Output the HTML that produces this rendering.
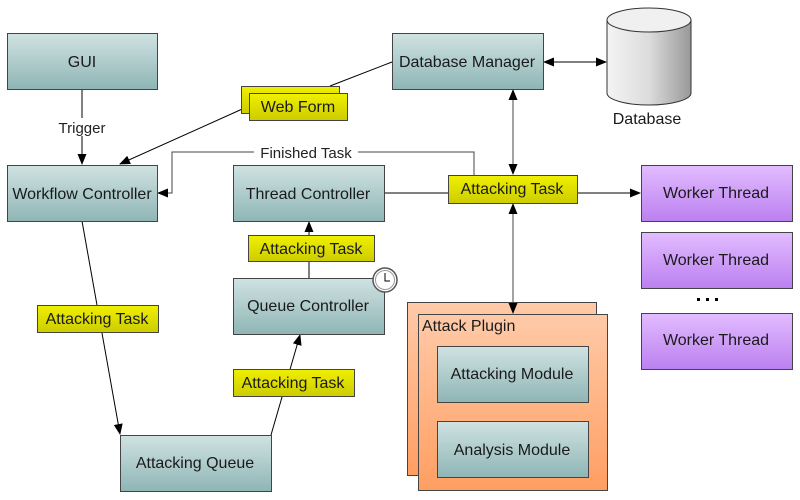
<!DOCTYPE html>
<html><head><meta charset="utf-8"><style>
html,body{margin:0;padding:0;background:#fff;}
svg{display:block;font-family:"Liberation Sans",Arial,sans-serif;}
</style></head><body>
<svg width="800" height="500" viewBox="0 0 800 500" xmlns="http://www.w3.org/2000/svg">
<defs>
<linearGradient id="teal" x1="0" y1="0" x2="0" y2="1"><stop offset="0" stop-color="#d0e2e2"/><stop offset="1" stop-color="#8fb5b5"/></linearGradient>
<linearGradient id="yel" x1="0" y1="0" x2="0" y2="1"><stop offset="0" stop-color="#f0f000"/><stop offset="1" stop-color="#cccc00"/></linearGradient>
<linearGradient id="pur" x1="0" y1="0" x2="0" y2="1"><stop offset="0" stop-color="#e2bcff"/><stop offset="1" stop-color="#bb80f0"/></linearGradient>
<linearGradient id="org" x1="0" y1="0" x2="0" y2="1"><stop offset="0" stop-color="#ffcaa8"/><stop offset="1" stop-color="#ff9e62"/></linearGradient>
<linearGradient id="cyl" x1="0" y1="0" x2="1" y2="0"><stop offset="0" stop-color="#f4f4f4"/><stop offset="0.5" stop-color="#dcdcdc"/><stop offset="1" stop-color="#999"/></linearGradient>
<marker id="a" markerWidth="11" markerHeight="11" refX="10" refY="5.5" orient="auto-start-reverse" markerUnits="userSpaceOnUse"><path d="M0,1 L11,5.5 L0,10 Z" fill="#000"/></marker>
</defs>
<g stroke="#000" stroke-width="1" fill="none">
<line x1="82" y1="89" x2="82" y2="164" marker-end="url(#a)"/>
<line x1="392" y1="62" x2="330" y2="86"/>
<line x1="249" y1="106" x2="120" y2="164" marker-end="url(#a)"/>
<polyline points="474,175 474,152 172,152 172,193 158,193" stroke="#444" marker-end="url(#a)"/>
<line x1="82" y1="221" x2="120" y2="434" marker-end="url(#a)"/>
<line x1="271" y1="435" x2="300" y2="335" marker-end="url(#a)"/>
<line x1="309" y1="278" x2="309" y2="222" marker-end="url(#a)"/>
<line x1="384" y1="193" x2="448" y2="193"/>
<line x1="577" y1="193" x2="640" y2="193" marker-end="url(#a)"/>
<line x1="513" y1="90" x2="513" y2="174" stroke="#444" marker-start="url(#a)" marker-end="url(#a)"/>
<line x1="544" y1="62" x2="606" y2="62" marker-start="url(#a)" marker-end="url(#a)"/>
</g>
<rect x="55" y="118" width="54" height="18" fill="#fff"/>
<text x="82" y="133" font-size="15" text-anchor="middle" fill="#222">Trigger</text>
<rect x="254" y="144" width="104" height="16" fill="#fff"/>
<text x="306" y="158" font-size="15" text-anchor="middle" fill="#222">Finished Task</text>
<g stroke="#444" stroke-width="1">
<rect x="7.5" y="33.5" width="150" height="56" fill="url(#teal)"/>
<rect x="7.5" y="165.5" width="150" height="56" fill="url(#teal)"/>
<rect x="233.5" y="165.5" width="151" height="56" fill="url(#teal)"/>
<rect x="392.5" y="33.5" width="151" height="56" fill="url(#teal)"/>
<rect x="233.5" y="278.5" width="151" height="56" fill="url(#teal)"/>
<rect x="120.5" y="435.5" width="151" height="56" fill="url(#teal)"/>
<rect x="241.5" y="86.5" width="98" height="27" fill="url(#yel)"/>
<rect x="249.5" y="93.5" width="98" height="27" fill="url(#yel)"/>
<rect x="448.5" y="175.5" width="129" height="28" fill="url(#yel)"/>
<rect x="248.5" y="235.5" width="126" height="26" fill="url(#yel)"/>
<rect x="37.5" y="305.5" width="121" height="27" fill="url(#yel)"/>
<rect x="233.5" y="369.5" width="121" height="27" fill="url(#yel)"/>
<rect x="641.5" y="165.5" width="151" height="56" fill="url(#pur)"/>
<rect x="641.5" y="232.5" width="151" height="56" fill="url(#pur)"/>
<rect x="641.5" y="313.5" width="151" height="56" fill="url(#pur)"/>
<rect x="407.5" y="302.5" width="189" height="173" fill="url(#org)"/>
<rect x="418.5" y="314.5" width="189" height="176" fill="url(#org)"/>
<rect x="437.5" y="346.5" width="151" height="56" fill="url(#teal)"/>
<rect x="437.5" y="421.5" width="151" height="56" fill="url(#teal)"/>
</g>
<line x1="513" y1="204" x2="513" y2="313" stroke="#444" marker-start="url(#a)" marker-end="url(#a)"/>
<path d="M607,20 L607,93 A42,12 0 0 0 691,93 L691,20 Z" fill="url(#cyl)" stroke="#333"/>
<ellipse cx="649" cy="20" rx="42" ry="12" fill="#f0f0f0" stroke="#333"/>
<circle cx="385" cy="280" r="12" fill="#fff" stroke="#555" stroke-width="1.5"/>
<circle cx="385" cy="280" r="9.5" fill="none" stroke="#999"/>
<path d="M385,273 L385,281 L390,281" stroke="#000" fill="none"/>
<g fill="#000"><rect x="697" y="298" width="3" height="3"/><rect x="706" y="298" width="3" height="3"/><rect x="715" y="298" width="3" height="3"/></g>
<g font-size="16" fill="#1a1a1a" text-anchor="middle">
<text x="82" y="67">GUI</text>
<text x="82" y="199">Workflow Controller</text>
<text x="308" y="199">Thread Controller</text>
<text x="467" y="67">Database Manager</text>
<text x="308" y="311">Queue Controller</text>
<text x="195" y="468">Attacking Queue</text>
<text x="298" y="112">Web Form</text>
<text x="512" y="194">Attacking Task</text>
<text x="311" y="254">Attacking Task</text>
<text x="97" y="324">Attacking Task</text>
<text x="293" y="388">Attacking Task</text>
<text x="716" y="198">Worker Thread</text>
<text x="716" y="265">Worker Thread</text>
<text x="716" y="345">Worker Thread</text>
<text x="512" y="379">Attacking Module</text>
<text x="512" y="455">Analysis Module</text>
<text x="647" y="124">Database</text>
<text x="422" y="331" text-anchor="start">Attack Plugin</text>
</g>
</svg>
</body></html>
